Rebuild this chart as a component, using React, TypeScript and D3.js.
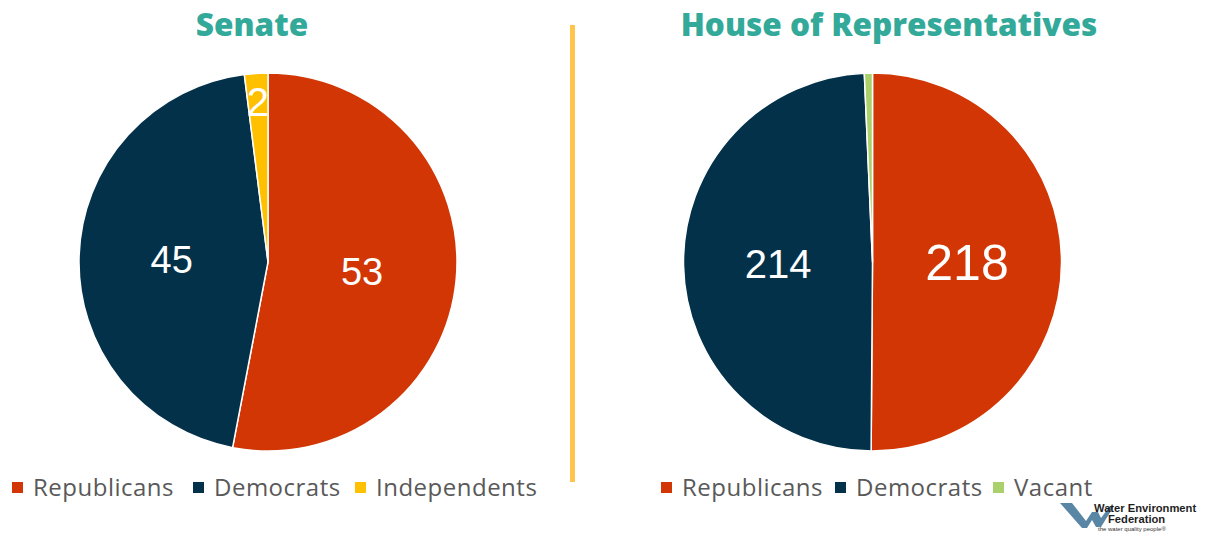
import React from "react";
import * as d3 from "d3";

const senateParties = ["Republicans", "Democrats", "Independents"];
const senateSeats = [53, 45, 2];
const senateColors = ["#D13604", "#04314A", "#FFC000"];

const houseParties = ["Republicans", "Democrats", "Vacant"];
const houseSeats = [218, 214, 3];
const houseColors = ["#D13604", "#04314A", "#A9D06A"];

const W = 1210;
const H = 533;

type PieProps = {
  cx: number;
  cy: number;
  r: number;
  title: string;
  titleX: number;
  parties: string[];
  seats: number[];
  colors: string[];
  labelFactors: number[];
  labelSizes: number[];
  legendX: number[];
};

function PieBlock(p: PieProps) {
  const data = p.parties.map((name, i) => ({ name, value: p.seats[i], color: p.colors[i] }));
  const pie = d3.pie<any>().value((d: any) => d.value).sort(null).startAngle(0).endAngle(2 * Math.PI);
  const arcs = pie(data);
  const arc = d3.arc<any>().innerRadius(0).outerRadius(p.r);
  return (
    <g>
      <text x={p.titleX} y={36} textAnchor="middle" fontFamily="'Open Sans', sans-serif" fontWeight={800} fontSize={31.5} fill="#33A99A">
        {p.title}
      </text>
      <g transform={`translate(${p.cx},${p.cy})`}>
        {arcs.map((a, i) => (
          <path key={i} d={arc(a) || ""} fill={a.data.color} stroke="#FFFFFF" strokeWidth={1.5} strokeLinejoin="round" />
        ))}
        {arcs.map((a, i) => {
          if (p.labelSizes[i] <= 0) return null;
          const lr = p.r * p.labelFactors[i];
          const c = d3.arc<any>().innerRadius(lr).outerRadius(lr).centroid(a);
          return (
            <text key={"l" + i} x={c[0]} y={c[1]} dy="0.36em" textAnchor="middle" fill="#FFFFFF" fontFamily="'Liberation Sans', Arial, sans-serif" fontSize={p.labelSizes[i]}>
              {a.data.value}
            </text>
          );
        })}
      </g>
      {data.map((d, i) => (
        <g key={"lg" + i}>
          <rect x={p.legendX[i]} y={482} width={11} height={11} fill={d.color} />
          <text x={p.legendX[i] + 21} y={496} fontFamily="'Open Sans', sans-serif" fontSize={24} letterSpacing={0.5} fill="#595959">
            {d.name}
          </text>
        </g>
      ))}
    </g>
  );
}

export default function App() {
  return (
    <svg width={W} height={H} style={{ position: "absolute", left: 0, top: 0, background: "#FFFFFF" }}>
      <rect x={0} y={0} width={W} height={H} fill="#FFFFFF" />
      <PieBlock
        cx={268}
        cy={262}
        r={189}
        title="Senate"
        titleX={252}
        parties={senateParties}
        seats={senateSeats}
        colors={senateColors}
        labelFactors={[0.5, 0.51, 0.85]}
        labelSizes={[38, 38, 40]}
        legendX={[12, 193, 355]}
      />
      <PieBlock
        cx={872.5}
        cy={262}
        r={189}
        title="House of Representatives"
        titleX={889}
        parties={houseParties}
        seats={houseSeats}
        colors={houseColors}
        labelFactors={[0.5, 0.5, 0.85]}
        labelSizes={[50, 40, 0]}
        legendX={[661, 835, 993]}
      />
      <rect x={570} y={25} width={5} height={457} fill="#FFC54D" />
      <g>
        <polygon points="1060,503 1072,503 1086,521 1092,512 1098,512 1101,518 1110,506 1114,506 1101,527 1096,527 1092,520 1087,528 1082,528" fill="#5A86A6" />
        <text x={1094} y={511.5} fontFamily="'Liberation Sans', Arial, sans-serif" fontWeight={700} fontSize={11.2} fill="#1E1E1E" letterSpacing={0}>
          Water Environment
        </text>
        <text x={1108} y={522.5} fontFamily="'Liberation Sans', Arial, sans-serif" fontWeight={700} fontSize={11.2} fill="#1E1E1E" letterSpacing={0}>
          Federation
        </text>
        <text x={1098} y={531} fontFamily="'Liberation Sans', Arial, sans-serif" fontSize={6} fill="#333">
          the water quality people®
        </text>
      </g>
    </svg>
  );
}
